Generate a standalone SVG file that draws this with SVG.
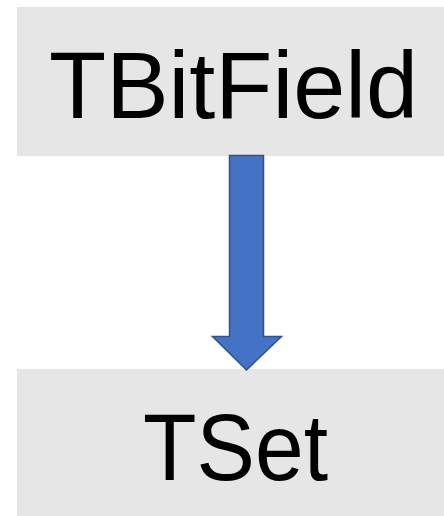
<svg xmlns="http://www.w3.org/2000/svg" width="444" height="516" viewBox="0 0 444 516">
<style>
.box{fill:#e6e6e6}
.lbl{font-family:"Liberation Sans",Arial,sans-serif;font-size:95px;fill:#000}
.arrow{fill:#4472c4;stroke:#2f528f;stroke-width:1.5;stroke-linejoin:miter}
</style>
<rect width="444" height="516" fill="#fff"/>
<g id="node-tbitfield">
<rect class="box" x="17" y="7" width="427" height="149"/>
<text class="lbl" x="49" y="118" textLength="369" lengthAdjust="spacingAndGlyphs">TBitField</text>
</g>
<g id="node-tset">
<rect class="box" x="17" y="369" width="427" height="147"/>
<text class="lbl" x="143" y="480" textLength="185" lengthAdjust="spacingAndGlyphs">TSet</text>
</g>
<g id="connectors">
<path class="arrow" d="M229.5,155.5 H263.5 V336.5 H281.5 L246.5,370 L212.5,336.5 H229.5 Z"/>
</g>
</svg>
